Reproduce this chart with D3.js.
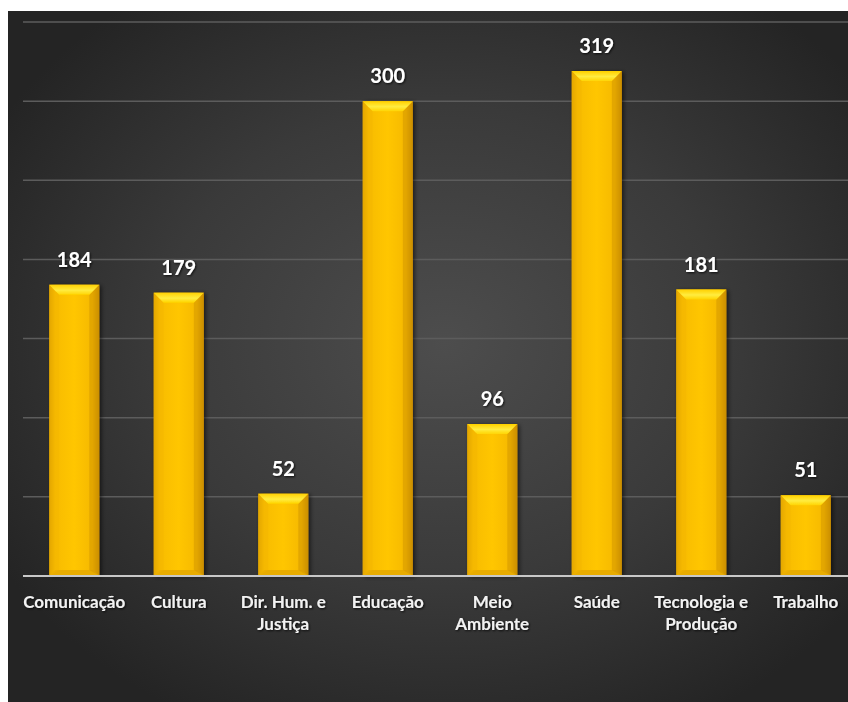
<!DOCTYPE html>
<html><head><meta charset="utf-8">
<script src="https://cdn.jsdelivr.net/npm/d3@7"></script>
<style>html,body{margin:0;padding:0;background:#fff;}svg{display:block;}</style>
</head><body>
<script>
const categories = ["Comunicação","Cultura","Dir. Hum. e\nJustiça","Educação","Meio\nAmbiente","Saúde","Tecnologia e\nProdução","Trabalho"];
const values = [184,179,52,300,96,319,181,51];
const yTicks = [0,50,100,150,200,250,300,350];

const W = 848, H = 702;
const svg = d3.select("body").append("svg").attr("width", W).attr("height", H);
const defs = svg.append("defs");

const bg = defs.append("radialGradient").attr("id","bg").attr("cx","52%").attr("cy","48%").attr("r","62%");
bg.append("stop").attr("offset","0%").attr("stop-color","#4d4d4d");
bg.append("stop").attr("offset","55%").attr("stop-color","#3a3a3a");
bg.append("stop").attr("offset","100%").attr("stop-color","#242424");

const side = defs.append("linearGradient").attr("id","side").attr("x1","0").attr("x2","1").attr("y1","0").attr("y2","0");
[["0%","#d89c00"],["12%","#f8bc00"],["50%","#ffc600"],["86%","#f6b900"],["100%","#c08400"]].forEach(s=>side.append("stop").attr("offset",s[0]).attr("stop-color",s[1]));
const topG = defs.append("linearGradient").attr("id","topg").attr("x1","0").attr("x2","0").attr("y1","0").attr("y2","1");
[["0%","#ffd000"],["55%","#ffec40"],["100%","#ffd400"]].forEach(s=>topG.append("stop").attr("offset",s[0]).attr("stop-color",s[1]));

const sh = defs.append("filter").attr("id","shadow").attr("x","-30%").attr("y","-10%").attr("width","160%").attr("height","120%");
sh.append("feDropShadow").attr("dx",2).attr("dy",1).attr("stdDeviation",2).attr("flood-color","#000").attr("flood-opacity",0.55);
const tsh = defs.append("filter").attr("id","tshadow").attr("x","-10%").attr("y","-20%").attr("width","120%").attr("height","150%");
tsh.append("feDropShadow").attr("dx",1).attr("dy",1).attr("stdDeviation",0.8).attr("flood-color","#000").attr("flood-opacity",0.8);

svg.append("rect").attr("x",8).attr("y",11).attr("width",W-8).attr("height",H-11).attr("fill","url(#bg)");

const x = d3.scaleBand().domain(categories).range([22, 858]).paddingInner(0.52).paddingOuter(0.26);
const y = d3.scaleLinear().domain([0,350]).range([576,22]);

// gridlines
svg.append("g").selectAll("line").data(yTicks.filter(d=>d>0)).join("line")
  .attr("x1",23).attr("x2",W).attr("y1",d=>y(d)).attr("y2",d=>y(d))
  .attr("stroke","#5c5c5c").attr("stroke-width",1.5);

const bars = svg.append("g").selectAll("g").data(categories).join("g");
bars.each(function(c,i){
  const g = d3.select(this);
  const x0 = x(c), x1 = x0 + x.bandwidth(), y0 = y(values[i]), y1 = y(0);
  const b = 10;
  const grp = g.append("g").attr("filter","url(#shadow)");
  grp.append("rect").attr("x",x0).attr("y",y0).attr("width",x1-x0).attr("height",y1-y0).attr("fill","url(#side)");
  grp.append("polygon").attr("points",[[x0,y1],[x1,y1],[x1-6,y1-6],[x0+6,y1-6]].join(" ")).attr("fill","#e8ac00");
  grp.append("polygon").attr("points",[[x0,y0],[x0+b,y0+b],[x0+b,y1-6],[x0,y1]].join(" ")).attr("fill","#f2b400").attr("opacity",0.45);
  grp.append("polygon").attr("points",[[x1,y0],[x1-b,y0+b],[x1-b,y1-6],[x1,y1]].join(" ")).attr("fill","#d49800").attr("opacity",0.55);
  grp.append("polygon").attr("points",[[x0,y0],[x1,y0],[x1-b,y0+b],[x0+b,y0+b]].join(" ")).attr("fill","url(#topg)");
  g.append("text").attr("x",(x0+x1)/2).attr("y",y0-18).attr("text-anchor","middle")
    .attr("font-family","Lato, 'Noto Sans', sans-serif").attr("font-weight","bold").attr("font-size",20)
    .attr("fill","#fff").attr("filter","url(#tshadow)").text(values[i]);
});

// baseline
svg.append("line").attr("x1",23).attr("x2",W).attr("y1",y(0)).attr("y2",y(0)).attr("stroke","#c8c8c8").attr("stroke-width",2);

// category labels
const lab = svg.append("g").selectAll("text").data(categories).join("text")
  .attr("x",d=>x(d)+x.bandwidth()/2).attr("y",608).attr("text-anchor","middle")
  .attr("font-family","Lato, 'Noto Sans', sans-serif").attr("font-weight","bold").attr("font-size",17)
  .attr("fill","#f2f2f2").attr("filter","url(#tshadow)");
lab.each(function(d){
  const t = d3.select(this);
  d.split("\n").forEach((line,k)=>{
    t.append("tspan").attr("x",x(d)+x.bandwidth()/2).attr("dy",k===0?0:22).text(line);
  });
});
</script>
</body></html>
